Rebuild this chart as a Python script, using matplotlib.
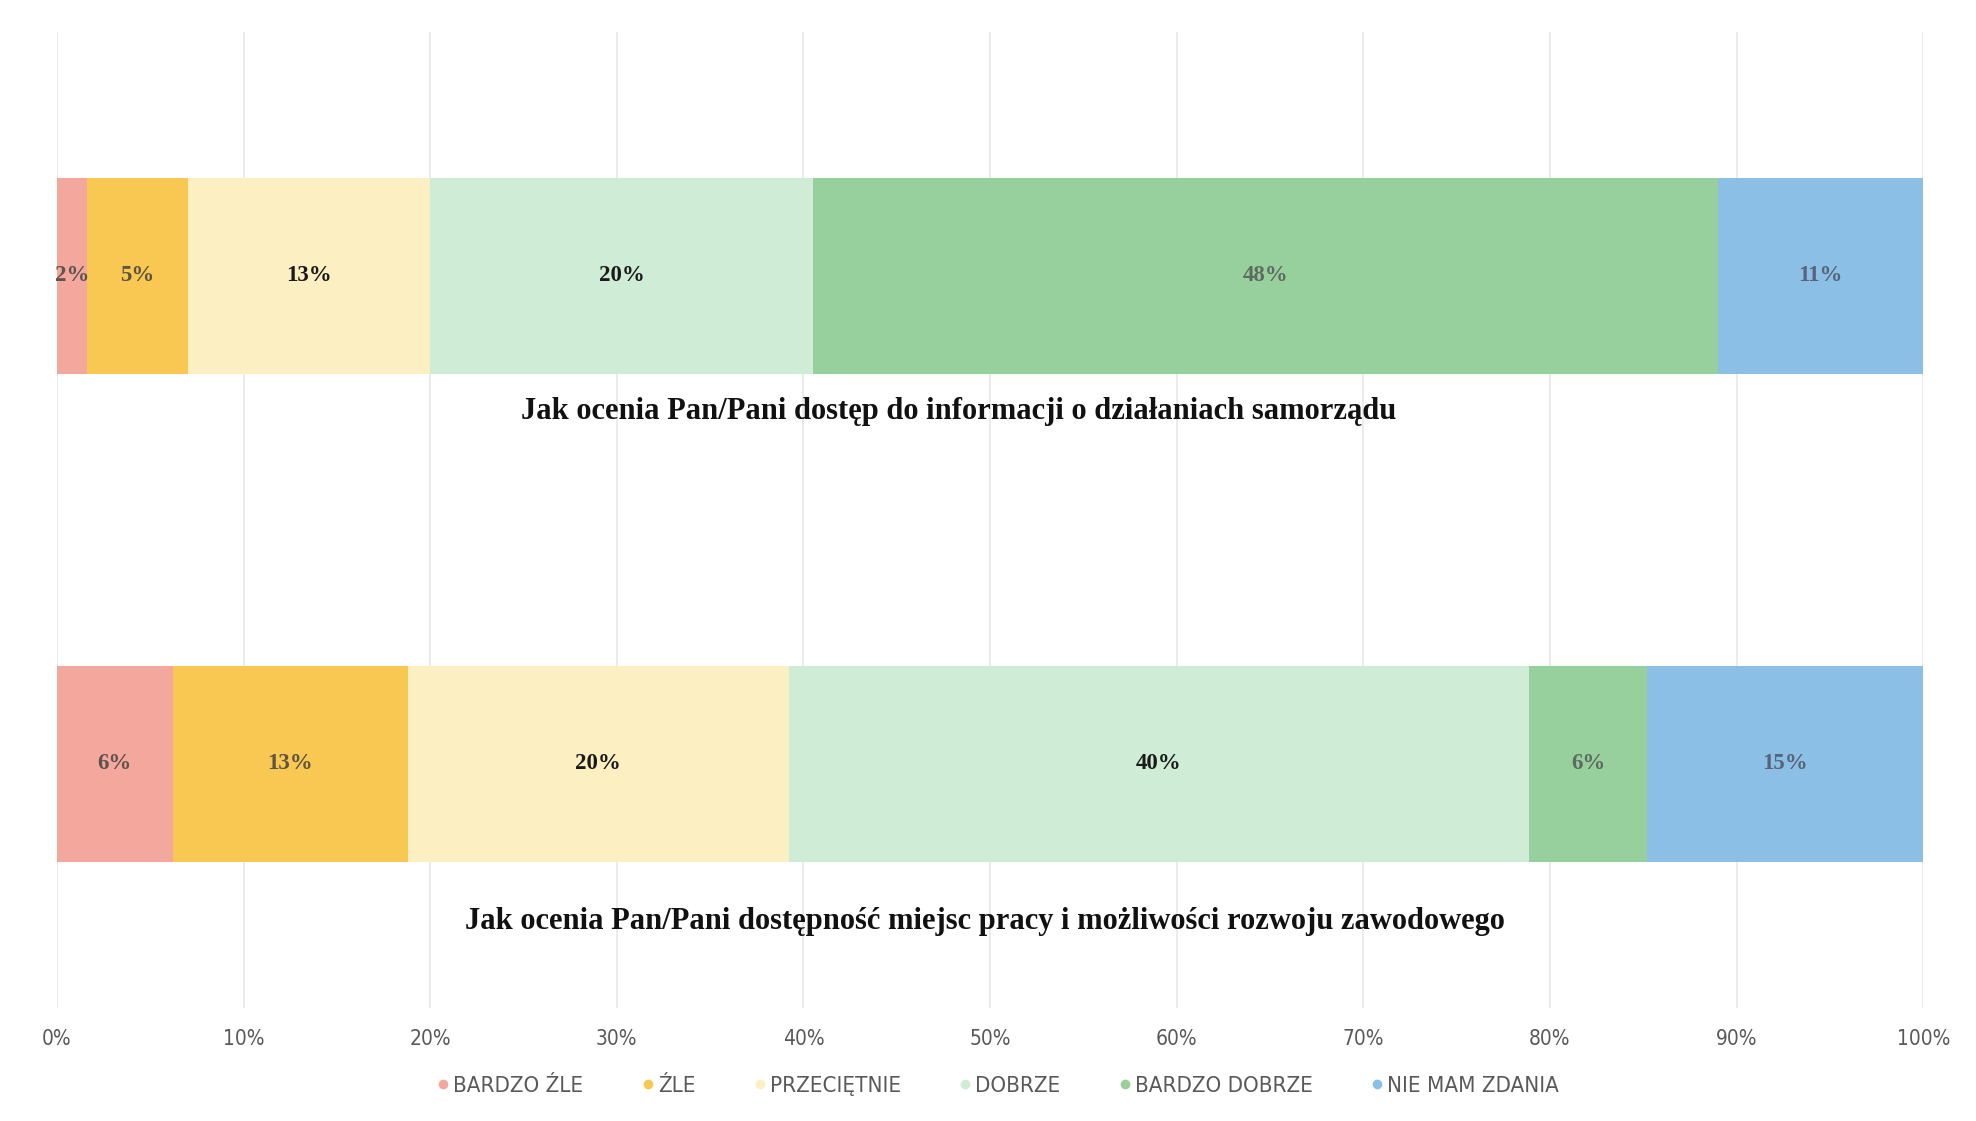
import matplotlib
matplotlib.use("Agg")
import matplotlib.pyplot as plt
from matplotlib.lines import Line2D
import numpy as np

# ---------------------------------------------------------------------------- #
#                                     Data                                     #
# ---------------------------------------------------------------------------- #

categories = ["BARDZO ŹLE", "ŹLE", "PRZECIĘTNIE", "DOBRZE", "BARDZO DOBRZE", "NIE MAM ZDANIA"]
questions = [
    "Jak ocenia Pan/Pani dostęp do informacji o działaniach samorządu",
    "Jak ocenia Pan/Pani dostępność miejsc pracy i możliwości rozwoju zawodowego",
]
info_access = [1.6, 5.4, 13.0, 20.5, 48.5, 11.0]        # % (bar 1)
job_access = [6.2, 12.6, 20.4, 39.7, 6.3, 14.8]         # % (bar 2)
x_ticks = [0, 10, 20, 30, 40, 50, 60, 70, 80, 90, 100]

colors = ["#F4A79C", "#F9C853", "#FCEFC2", "#CFEDD6", "#97D09D", "#8BBFE6"]
label_colors = ["#5f5350", "#5f5440", "#1a1a1a", "#1a1a1a", "#5d6b60", "#56657a"]

# ---------------------------------------------------------------------------- #
#                                     Plot                                     #
# ---------------------------------------------------------------------------- #

fig = plt.figure(figsize=(19.76, 11.21), dpi=100)
ax = fig.add_axes([0.0288, 0.1008, 0.9445, 0.8707])

serif = ["Liberation Serif", "DejaVu Serif"]

y_pos = [0.75, 0.25]
rows = [info_access, job_access]
title_x = [0.483, 0.497]
title_y = [0.611, 0.089]

for row, y, q, tx, ty in zip(rows, y_pos, questions, title_x, title_y):
    left = 0.0
    for val, c, lc in zip(row, colors, label_colors):
        ax.barh(y, val, left=left, height=0.2, color=c, edgecolor="none", zorder=2)
        ax.text(left + val / 2, y, f"{round(val)}%", ha="center", va="center",
                fontsize=16.5, fontweight="bold", color=lc, family=serif, zorder=3)
        left += val
    ax.text(tx, ty, q, transform=ax.transAxes, ha="center", va="center",
            fontsize=22, fontweight="bold", color="#111111", family=serif)

ax.set_xlim(0, 100)
ax.set_ylim(0, 1)
ax.set_xticks(x_ticks)
ax.set_xticklabels([f"{t}%" for t in x_ticks], fontsize=15, color="#595959",
                   family="DejaVu Sans", fontstretch="condensed")
ax.tick_params(axis="x", length=0, pad=15)
ax.set_yticks([])
ax.grid(axis="x", color="#e8e8e8", linewidth=1.2, zorder=0)
for s in ax.spines.values():
    s.set_visible(False)

# Legend
handles = [Line2D([], [], marker="o", linestyle="none", markersize=7,
                  markerfacecolor=c, markeredgecolor="none") for c in colors]
fig.legend(handles, categories, loc="center", bbox_to_anchor=(0.505, 0.031),
           ncol=6, frameon=False, handlelength=0.6, handletextpad=0.15,
           columnspacing=2.6,
           prop={"family": "DejaVu Sans", "stretch": "condensed", "size": 16},
           labelcolor="#595959")

fig.savefig("out.png", dpi=100, facecolor="white")
